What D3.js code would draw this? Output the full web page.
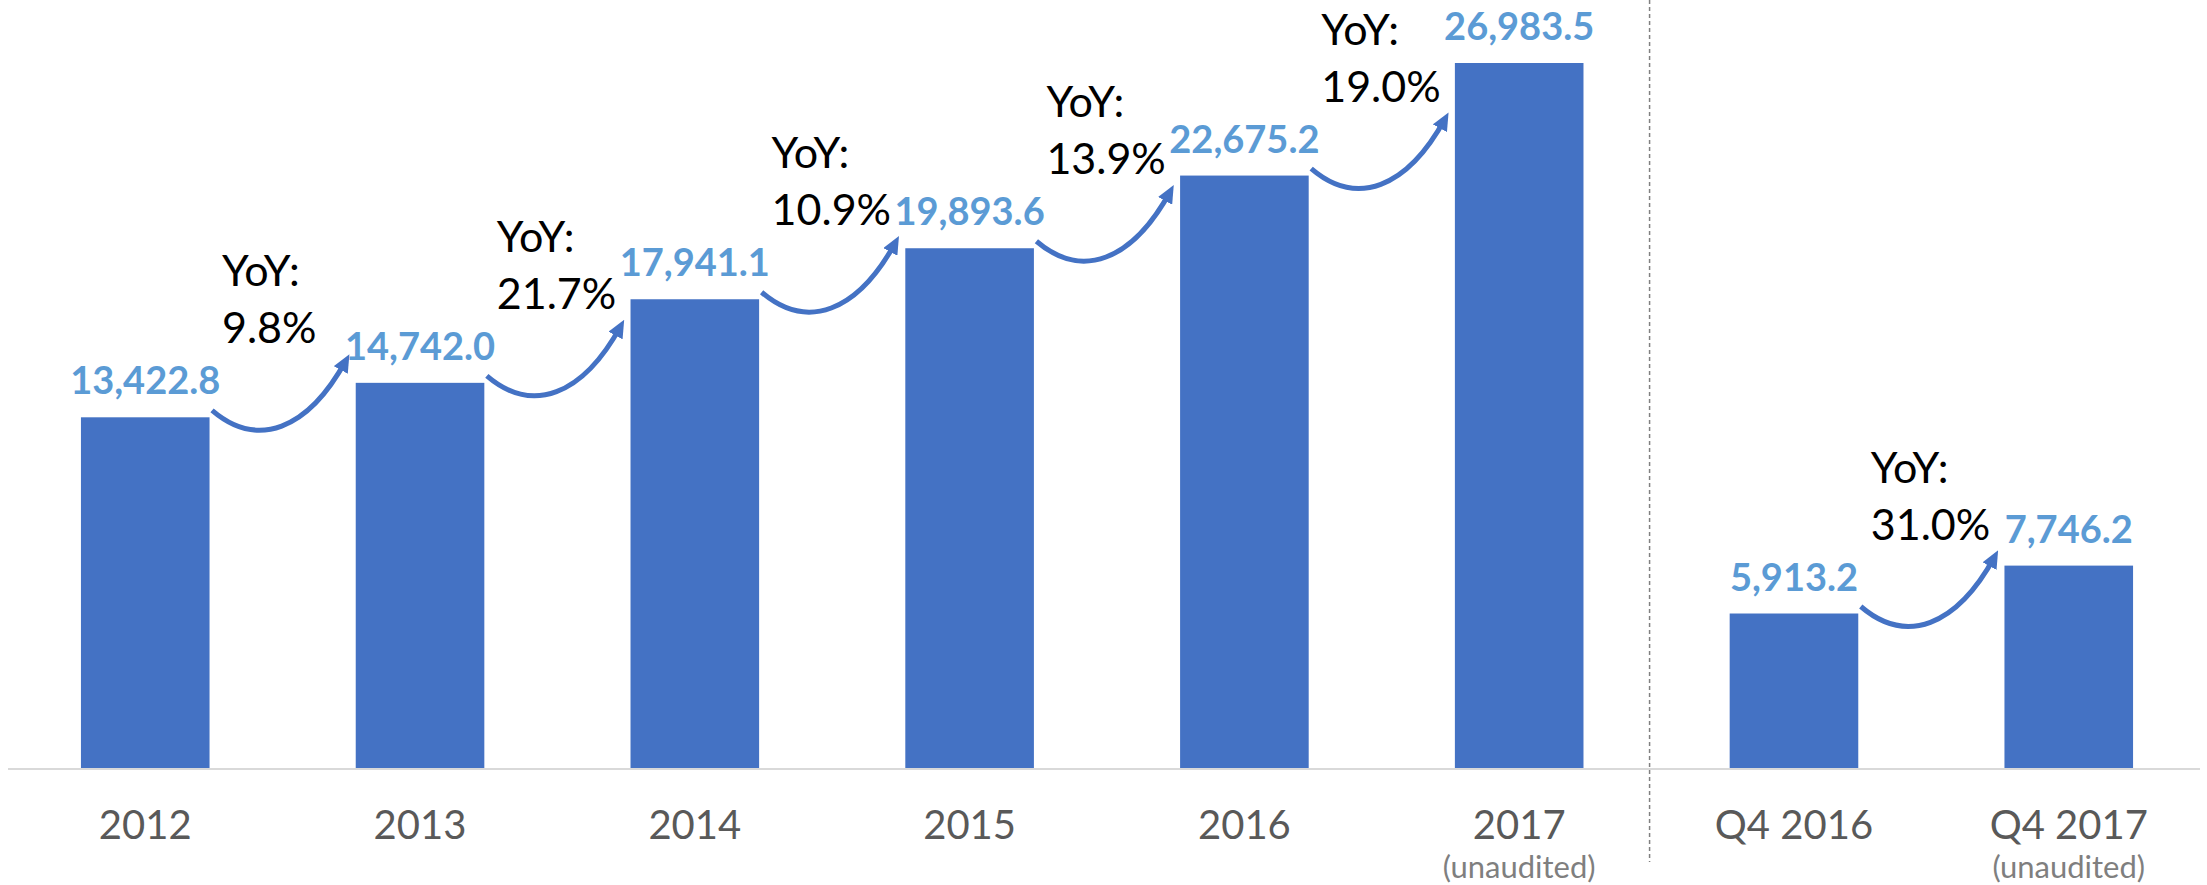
<!DOCTYPE html>
<html>
<head>
<meta charset="utf-8">
<script src="https://cdnjs.cloudflare.com/ajax/libs/d3/7.8.5/d3.min.js"></script>
<style>
  body { margin: 0; background: #fff; }
  text { font-family: Lato, "Open Sans", sans-serif; }
</style>
</head>
<body>
<div id="chart"></div>
<script>
  // annual revenue, then the two fourth quarters
  var categories = ["2012", "2013", "2014", "2015", "2016", "2017", "Q4 2016", "Q4 2017"];
  var revenue = [13422.8, 14742.0, 17941.1, 19893.6, 22675.2, 26983.5, 5913.2, 7746.2];
  var unaudited = ["2017", "Q4 2017"];

  // growth arrows: from this bar to the next one
  var yoyFrom = ["2012", "2013", "2014", "2015", "2016", "Q4 2016"];
  var yoyGrowth = [9.8, 21.7, 10.9, 13.9, 19.0, 31.0];

  var width = 2207, height = 885;
  var barColor = "#4472C4", labelColor = "#5B9BD5";

  var svg = d3.select("#chart").append("svg")
      .attr("width", width)
      .attr("height", height)
      .style("display", "block");

  var x = d3.scaleBand()
      .domain(categories)
      .range([4, 2210])
      .paddingInner(0.532)
      .paddingOuter(0.28);

  var y = d3.scaleLinear()
      .domain([0, 29000])
      .range([768, 768 - 29000 * 0.026127]);

  var data = categories.map(function (c, i) { return { cat: c, value: revenue[i] }; });

  // dashed divider between the annual and the quarterly bars
  var i5 = categories.indexOf("2017");
  var divX = (x(categories[i5]) + x.bandwidth() + x(categories[i5 + 1])) / 2 - 7;
  svg.append("line")
      .attr("x1", divX).attr("x2", divX)
      .attr("y1", 0).attr("y2", 862)
      .style("stroke", "#808080")
      .style("stroke-width", 1.5)
      .style("stroke-dasharray", "4,3");

  // bars
  svg.selectAll("rect.bar")
      .data(data)
      .enter()
      .append("rect")
      .attr("class", "bar")
      .attr("x", function (d) { return x(d.cat); })
      .attr("y", function (d) { return y(d.value); })
      .attr("width", x.bandwidth())
      .attr("height", function (d) { return y(0) - y(d.value); })
      .style("fill", barColor);

  // value labels
  var fmt = d3.format(",.1f");
  svg.selectAll("text.value")
      .data(data)
      .enter()
      .append("text")
      .attr("class", "value")
      .attr("x", function (d) { return x(d.cat) + x.bandwidth() / 2; })
      .attr("y", function (d) { return y(d.value) - 23; })
      .attr("text-anchor", "middle")
      .style("font-size", "38px")
      .style("font-weight", "bold")
      .style("fill", labelColor)
      .text(function (d) { return fmt(d.value); });

  // x axis
  var axis = svg.append("g")
      .attr("transform", "translate(0,769)")
      .call(d3.axisBottom(x).tickSize(0).tickSizeOuter(0).tickPadding(42));
  axis.attr("font-family", null).attr("font-size", null);
  axis.select(".domain")
      .attr("d", "M8,0H2200")
      .style("stroke", "#d9d9d9")
      .style("stroke-width", 2);
  axis.selectAll(".tick text")
      .style("font-size", "40px")
      .style("fill", "#595959");
  // second line under the unaudited periods
  axis.selectAll(".tick")
      .filter(function (d) { return unaudited.indexOf(d) >= 0; })
      .append("text")
      .attr("y", 109)
      .attr("text-anchor", "middle")
      .style("font-size", "31px")
      .style("fill", "#7f7f7f")
      .text("(unaudited)");

  // arrow head
  svg.append("defs").append("marker")
      .attr("id", "head")
      .attr("markerUnits", "userSpaceOnUse")
      .attr("viewBox", "0 0 18 16")
      .attr("markerWidth", 18)
      .attr("markerHeight", 16)
      .attr("refX", 11)
      .attr("refY", 8)
      .attr("orient", "auto")
      .append("path")
      .attr("d", "M0,0L18,8L0,16Z")
      .style("fill", barColor);

  // YoY arrows and labels
  yoyFrom.forEach(function (c, i) {
    var v = revenue[categories.indexOf(c)];
    var sx = x(c) + x.bandwidth() + 2.5;
    var sy = y(v) - 7;

    svg.append("path")
        .attr("d", "M" + sx + "," + sy + "A142.5,342.6 0 0 0 " + (sx + 134) + "," + (sy - 50))
        .attr("marker-end", "url(#head)")
        .style("fill", "none")
        .style("stroke", barColor)
        .style("stroke-width", 5);

    svg.selectAll(null)
        .data(["YoY:", yoyGrowth[i].toFixed(1) + "%"])
        .enter()
        .append("text")
        .attr("x", sx + 10)
        .attr("y", function (d, j) { return sy - 67 - (1 - j) * 57; })
        .style("font-size", "43px")
        .style("fill", "#000")
        .text(function (d) { return d; });
  });
</script>
</body>
</html>
